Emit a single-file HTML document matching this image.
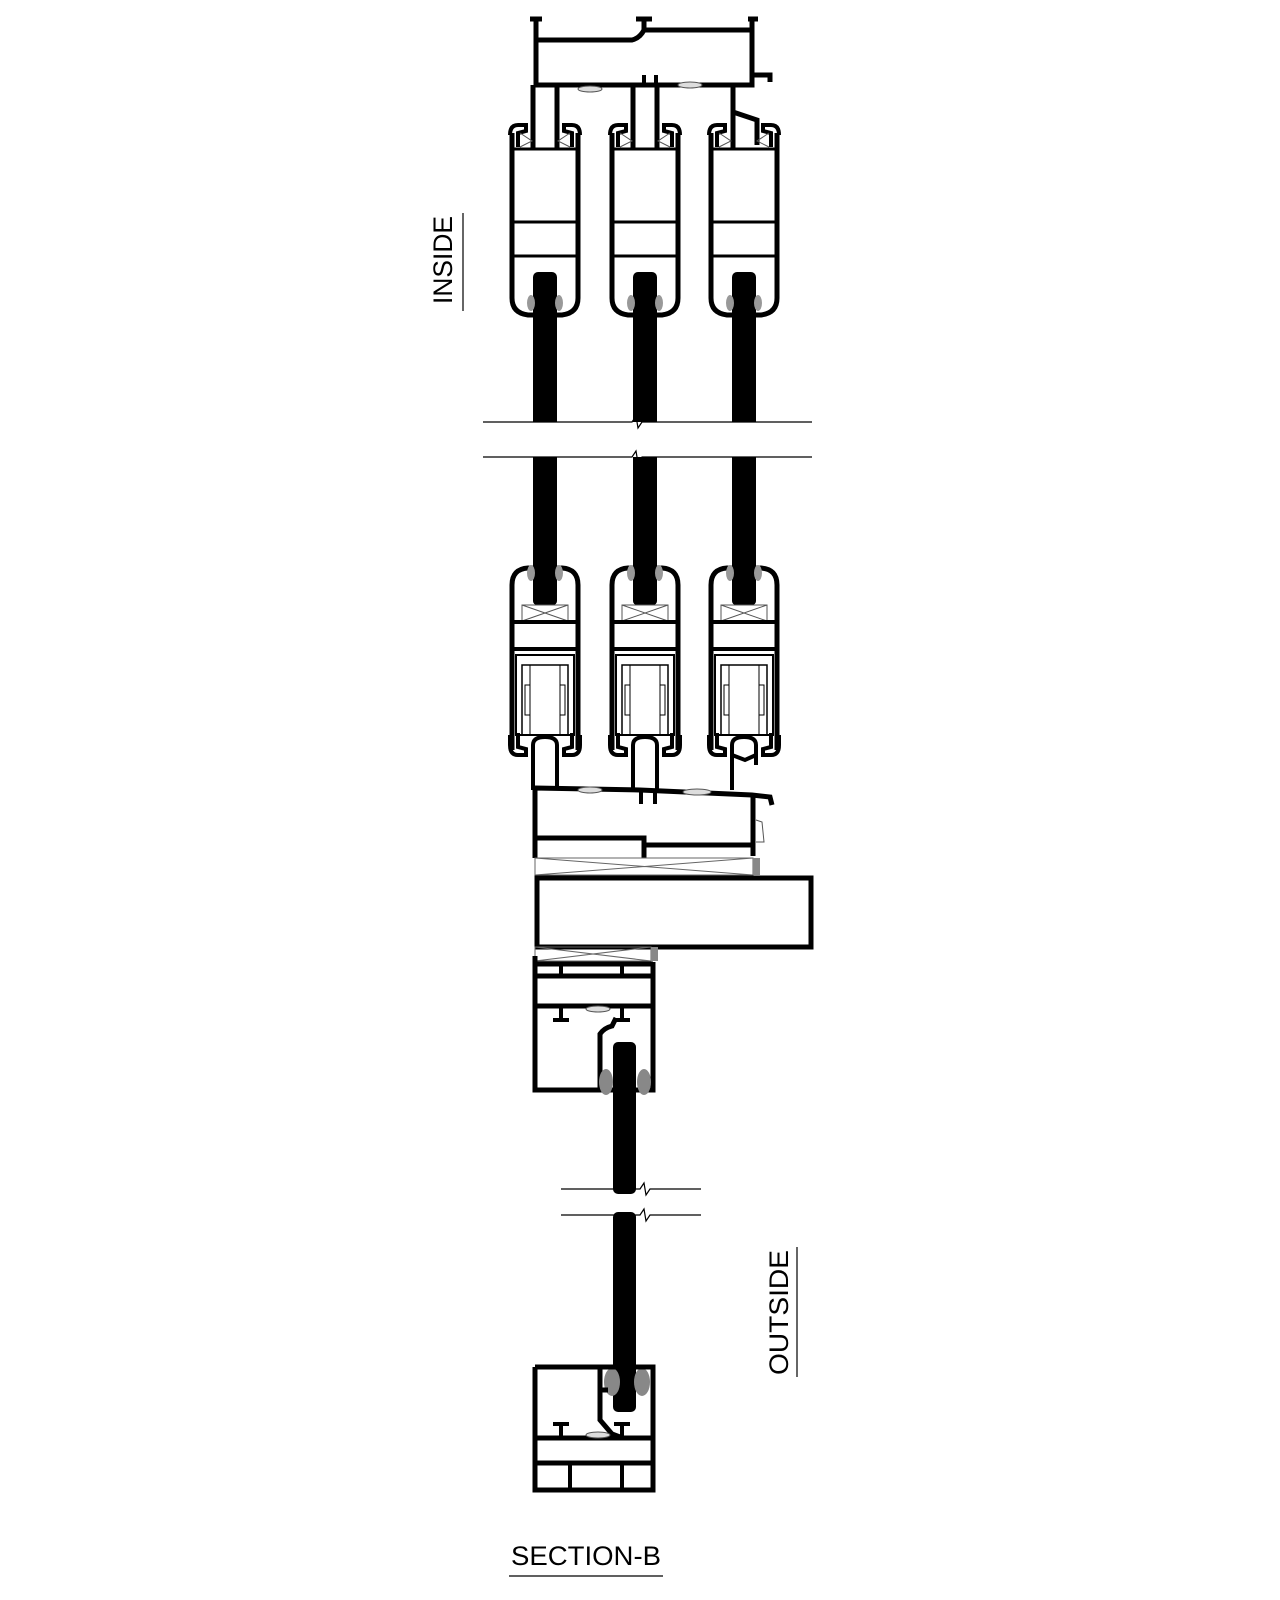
<!DOCTYPE html>
<html><head><style>html,body{margin:0;padding:0;background:#fff}svg{display:block}</style></head>
<body>
<svg width="1280" height="1600" viewBox="0 0 1280 1600" xmlns="http://www.w3.org/2000/svg" font-family="Liberation Sans, sans-serif">
<defs>
<g id="topsash">
  <path d="M4,30 L4,195 Q4,210 20,212 L54,212 Q70,210 70,195 L70,30" fill="none" stroke="#000" stroke-width="5"/>
  <path d="M2,32 Q2,22 10,22 L18,22 L18,28 L10,30 L10,44 M72,32 Q72,22 64,22 L56,22 L56,28 L64,30 L64,44" fill="none" stroke="#000" stroke-width="4"/>
  <line x1="4" y1="46" x2="70" y2="46" stroke="#000" stroke-width="3"/>
  <line x1="4" y1="119" x2="70" y2="119" stroke="#000" stroke-width="3"/>
  <line x1="4" y1="153" x2="70" y2="153" stroke="#000" stroke-width="3"/>
  <path d="M12,30 L24,38 L12,44 M62,30 L50,38 L62,44" fill="none" stroke="#555" stroke-width="1"/>
  <rect x="25" y="169" width="24" height="60" rx="5" fill="#000"/>
  <ellipse cx="23" cy="200" rx="4" ry="8" fill="#999"/>
  <ellipse cx="51" cy="200" rx="4" ry="8" fill="#999"/>
</g>
<g id="botsash">
  <path d="M4,185 L4,20 Q4,4 20,3 L54,3 Q70,4 70,20 L70,185" fill="none" stroke="#000" stroke-width="5"/>
  <path d="M2,170 L2,180 Q2,190 10,190 L18,190 L18,184 L10,182 L10,168 M72,170 L72,180 Q72,190 64,190 L56,190 L56,184 L64,182 L64,168" fill="none" stroke="#000" stroke-width="4"/>
  <rect x="25" y="-5" width="24" height="45" rx="4" fill="#000"/>
  <ellipse cx="23" cy="8" rx="4" ry="8" fill="#999"/>
  <ellipse cx="51" cy="8" rx="4" ry="8" fill="#999"/>
  <rect x="14" y="40" width="46" height="16" fill="none" stroke="#555" stroke-width="1"/>
  <path d="M14,40 L60,56 M60,40 L14,56" stroke="#555" stroke-width="1"/>
  <line x1="4" y1="57" x2="70" y2="57" stroke="#000" stroke-width="4"/>
  <line x1="4" y1="84" x2="70" y2="84" stroke="#000" stroke-width="4"/>
  <rect x="8" y="90" width="58" height="80" fill="none" stroke="#000" stroke-width="2"/>
  <rect x="14" y="100" width="46" height="70" fill="none" stroke="#000" stroke-width="1.5"/>
  <rect x="22" y="100" width="30" height="70" fill="none" stroke="#000" stroke-width="1"/>
  <rect x="17" y="120" width="5" height="30" fill="none" stroke="#000" stroke-width="1"/>
  <rect x="52" y="120" width="5" height="30" fill="none" stroke="#000" stroke-width="1"/>
  <path d="M25,200 L25,180 Q25,172 37,172 Q49,172 49,180 L49,200" fill="#fff" stroke="#000" stroke-width="4"/>
</g>
</defs>

<g fill="none" stroke="#000" stroke-width="5">
  <path d="M536,17 L536,85 L752,85 L752,17"/>
  <path d="M530,19 L542,19 M636,19 L652,19 M748,19 L758,19"/>
  <path d="M536,40 L632,40 Q640,38 644,30 L644,21 M644,30 L752,30"/>
  <path d="M752,75 L770,75 L770,82"/>
  <line x1="644" y1="75" x2="644" y2="87" stroke-width="4"/>
  <line x1="656" y1="75" x2="656" y2="87" stroke-width="4"/>
  <path d="M533,85 L533,150 M557,85 L557,150"/>
  <path d="M633,85 L633,150 M657,85 L657,150"/>
  <path d="M733,85 L733,150 M733,112 L757,120 L757,145"/>
</g>
<ellipse cx="590" cy="89" rx="12" ry="3" fill="#ddd" stroke="#555" stroke-width="1"/>
<ellipse cx="690" cy="85" rx="12" ry="3" fill="#ddd" stroke="#555" stroke-width="1"/>

<use href="#topsash" x="508" y="103"/>
<use href="#topsash" x="608" y="103"/>
<use href="#topsash" x="707" y="103"/>

<g fill="#000">
  <rect x="533" y="320" width="24" height="102"/>
  <rect x="633" y="320" width="24" height="102"/>
  <rect x="732" y="320" width="24" height="102"/>
  <rect x="533" y="457" width="24" height="114"/>
  <rect x="633" y="457" width="24" height="114"/>
  <rect x="732" y="457" width="24" height="114"/>
</g>
<g stroke="#000" stroke-width="1.2" fill="none">
  <path d="M483,422 L632,422 L636,416 L638,428 L642,422 L812,422"/>
  <path d="M483,457 L632,457 L636,451 L638,463 L642,457 L812,457"/>
</g>

<use href="#botsash" x="508" y="565"/>
<use href="#botsash" x="608" y="565"/>
<use href="#botsash" x="707" y="565"/>

<g fill="none" stroke="#000" stroke-width="4">
  <path d="M533,755 L533,790 M557,755 L557,790"/>
  <path d="M633,755 L633,790 M657,755 L657,790"/>
  <path d="M732,755 L732,790 M756,755 L756,750"/>
  <path d="M732,755 L745,760 L756,755"/>
</g>

<g fill="none" stroke="#000" stroke-width="5">
  <path d="M535,788 L535,858 M535,788 L640,790 L752,795 L770,797 L772,805"/>
  <path d="M753,795 L753,856"/>
  <path d="M535,838 L644,838 L644,845 L753,845"/>
  <path d="M644,845 L644,858"/>
  <line x1="641" y1="792" x2="641" y2="804" stroke-width="4"/>
  <line x1="655" y1="792" x2="655" y2="804" stroke-width="4"/>
</g>
<ellipse cx="590" cy="790" rx="12" ry="3" fill="#ddd" stroke="#555" stroke-width="1"/>
<ellipse cx="697" cy="792" rx="14" ry="3" fill="#ddd" stroke="#555" stroke-width="1"/>
<path d="M756,820 L762,822 L764,842 L756,842" fill="none" stroke="#555" stroke-width="1"/>
<rect x="535" y="858" width="218" height="17" fill="none" stroke="#666" stroke-width="1"/>
<path d="M535,858 L753,875 M753,858 L535,875" stroke="#666" stroke-width="1"/>
<rect x="753" y="858" width="7" height="17" fill="#888"/>

<rect x="537" y="878" width="274" height="69" fill="#fff" stroke="#000" stroke-width="5"/>

<rect x="535" y="947" width="116" height="14" fill="none" stroke="#666" stroke-width="1"/>
<path d="M535,947 L651,961 M651,947 L535,961" stroke="#666" stroke-width="1"/>
<rect x="651" y="947" width="7" height="14" fill="#888"/>
<g fill="none" stroke="#000" stroke-width="5">
  <path d="M535,956 L535,1090 L653,1090 L653,962"/>
  <line x1="535" y1="964" x2="653" y2="964"/>
  <line x1="535" y1="976" x2="653" y2="976"/>
  <line x1="535" y1="1006" x2="653" y2="1006"/>
  <path d="M600,1090 L600,1034 Q604,1028 612,1026 L616,1018"/>
</g>
<g fill="#000">
  <rect x="559" y="964" width="4" height="14"/>
  <rect x="620" y="964" width="4" height="14"/>
  <rect x="559" y="1006" width="4" height="14"/><rect x="553" y="1018" width="16" height="4"/>
  <rect x="620" y="1006" width="4" height="14"/><rect x="614" y="1018" width="16" height="4"/>
</g>
<ellipse cx="598" cy="1009" rx="12" ry="3" fill="#ddd" stroke="#555" stroke-width="1"/>
<rect x="613" y="1042" width="23" height="152" rx="5" fill="#000"/>
<ellipse cx="606" cy="1082" rx="7" ry="13" fill="#888"/>
<ellipse cx="644" cy="1082" rx="7" ry="13" fill="#888"/>
<rect x="613" y="1212" width="23" height="200" rx="5" fill="#000"/>
<g stroke="#000" stroke-width="1.2" fill="none">
  <path d="M561,1189 L640,1189 L644,1183 L646,1195 L650,1189 L701,1189"/>
  <path d="M561,1215 L640,1215 L644,1209 L646,1221 L650,1215 L701,1215"/>
</g>

<ellipse cx="612" cy="1382" rx="8" ry="14" fill="#888"/>
<ellipse cx="642" cy="1382" rx="8" ry="14" fill="#888"/>
<g fill="none" stroke="#000" stroke-width="5">
  <path d="M535,1367 L535,1490 L653,1490 L653,1367 L535,1367"/>
  <path d="M600,1367 L600,1390 L608,1390 M600,1390 L600,1420 L612,1434 L620,1437"/>
  <line x1="535" y1="1438" x2="653" y2="1438"/>
  <line x1="535" y1="1463" x2="653" y2="1463"/>
  <line x1="570" y1="1463" x2="570" y2="1490" stroke-width="4"/>
  <line x1="622" y1="1463" x2="622" y2="1490" stroke-width="4"/>
</g>
<g fill="#000">
  <rect x="559" y="1422" width="4" height="16"/><rect x="553" y="1422" width="16" height="4"/>
  <rect x="620" y="1422" width="4" height="16"/><rect x="614" y="1422" width="16" height="4"/>
</g>
<ellipse cx="598" cy="1435" rx="12" ry="3" fill="#ddd" stroke="#555" stroke-width="1"/>

<text transform="translate(452,304) rotate(-90)" font-size="27" textLength="88" lengthAdjust="spacingAndGlyphs">INSIDE</text>
<line x1="463" y1="213" x2="463" y2="311" stroke="#000" stroke-width="1.2"/>
<text transform="translate(788,1375) rotate(-90)" font-size="27" textLength="125" lengthAdjust="spacingAndGlyphs">OUTSIDE</text>
<line x1="797" y1="1247" x2="797" y2="1377" stroke="#000" stroke-width="1.2"/>
<text x="511" y="1565" font-size="27" textLength="150" lengthAdjust="spacingAndGlyphs">SECTION-B</text>
<line x1="509" y1="1576" x2="663" y2="1576" stroke="#000" stroke-width="1.2"/>
</svg>
</body></html>
